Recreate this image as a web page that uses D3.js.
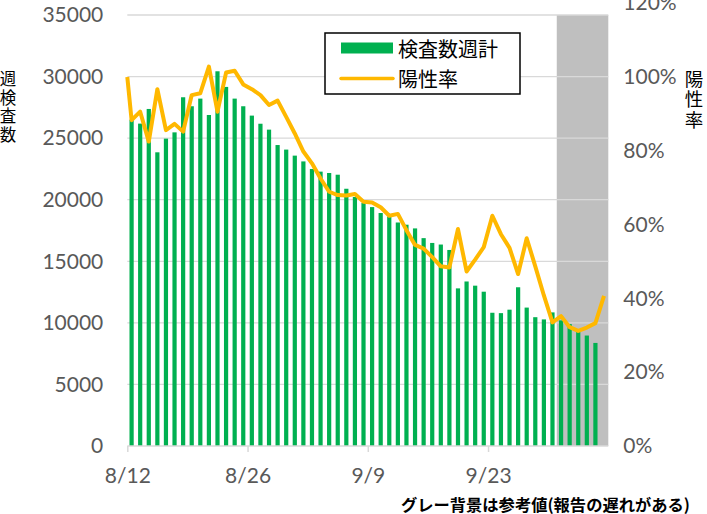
<!DOCTYPE html>
<html>
<head>
<meta charset="utf-8">
<script src="https://cdn.jsdelivr.net/npm/d3@7"></script>
<style>
  body { margin: 0; background: #fff; }
  svg { display: block; }
  .tick-label { font-family: Lato, "DejaVu Sans", sans-serif; font-size: 21px; fill: #595959; }
  .jp { font-family: "Noto Sans CJK JP", sans-serif; fill: #000; }
  .vertical { writing-mode: vertical-rl; }
</style>
</head>
<body>
<script>
// daily bars 8/12 .. 10/5, line 8/11 .. 10/6
const barStart = new Date(2021, 7, 12);
const barEnd = new Date(2021, 9, 6);
const lineStart = new Date(2021, 7, 11);
const lineEnd = new Date(2021, 9, 7);
const grayStart = new Date(2021, 9, 1);

const weeklyTests = [26500, 26180, 27370, 23850, 24960, 25470, 28320, 27590, 28210, 26880,
  30430, 29160, 28210, 27590, 26830, 26170, 25690, 24440, 24070, 23580,
  23110, 22490, 22280, 22170, 22030, 20890, 20220, 19730, 19400, 18920,
  18640, 18150, 17970, 17670, 16880, 16490, 16360, 15920, 12800, 13360,
  13020, 12530, 10820, 10790, 11070, 12890, 11240, 10460, 10280, 10850,
  10200, 9900, 9420, 8970, 8370];

const positiveRate = [100, 88.3, 90.6, 82.5, 96.7, 85.6, 87.3, 85.2, 95.1, 95.6,
  102.8, 90.6, 101.2, 101.7, 98.0, 96.7, 95.1, 92.4, 93.6, 89.2,
  84.7, 79.8, 76.6, 72.5, 68.9, 68.0, 67.9, 68.3, 66.2, 66.0,
  64.7, 62.4, 62.9, 58.5, 54.5, 53.5, 51.2, 48.7, 48.4, 58.8,
  47.3, 50.5, 53.9, 62.4, 57.4, 53.7, 46.6, 56.3, 48.7, 40.8,
  33.5, 35.2, 32.2, 31.2, 32.1, 33.3, 40.7];

const leftTicks = [0, 5000, 10000, 15000, 20000, 25000, 30000, 35000];
const rightTicks = [0, 0.2, 0.4, 0.6, 0.8, 1.0, 1.2];
const xTickDates = [new Date(2021, 7, 12), new Date(2021, 7, 26), new Date(2021, 8, 9), new Date(2021, 8, 23)];

const legendLabels = ["検査数週計", "陽性率"];
const leftTitle = "週検査数";
const rightTitle = "陽性率";
const note = "グレー背景は参考値(報告の遅れがある)";

const width = 707, height = 514;
const plot = { left: 127.3, right: 608.3, top: 15, bottom: 446 };
const green = "#00b050", orange = "#ffb800";

const barDays = d3.timeDay.range(barStart, barEnd);
const lineDays = d3.timeDay.range(lineStart, lineEnd);
const noon = d => d3.timeHour.offset(d, 12);

const x = d3.scaleTime()
  .domain([barStart, lineEnd])
  .range([plot.left, plot.right]);
// the line's first point sits on the left edge
const xLine = x.copy().clamp(true);
const dayW = x(d3.timeDay.offset(barStart, 1)) - x(barStart);

const yL = d3.scaleLinear().domain([0, 35000]).range([plot.bottom, plot.top]);
const yR = d3.scaleLinear().domain([0, 1.2]).range([plot.bottom, 3.2]);

const svg = d3.select("body").append("svg")
  .attr("width", width)
  .attr("height", height);

// gray "reference only" zone
svg.append("rect")
  .attr("x", x(grayStart))
  .attr("y", plot.top)
  .attr("width", plot.right - x(grayStart))
  .attr("height", plot.bottom - plot.top)
  .attr("fill", "#bfbfbf");

// gridlines
svg.append("g")
  .selectAll("line")
  .data(leftTicks.filter(d => d > 0))
  .join("line")
    .attr("x1", plot.left)
    .attr("x2", plot.right)
    .attr("y1", d => yL(d))
    .attr("y2", d => yL(d))
    .attr("stroke", "#d9d9d9")
    .attr("stroke-width", 1.3);

// bars
svg.append("g")
  .selectAll("rect")
  .data(weeklyTests)
  .join("rect")
    .attr("x", (d, i) => x(noon(barDays[i])) - dayW * 0.245)
    .attr("y", d => yL(d))
    .attr("width", dayW * 0.49)
    .attr("height", d => plot.bottom - yL(d))
    .attr("fill", green);

// bottom axis
const xAxis = d3.axisBottom(x)
  .tickValues(xTickDates)
  .tickSize(6)
  .tickFormat(d3.timeFormat("%-m/%-d"));

const gx = svg.append("g")
  .attr("transform", `translate(0,${plot.bottom})`)
  .call(xAxis);
gx.select(".domain").attr("stroke", "#d9d9d9").attr("stroke-width", 1.5)
  .attr("d", `M${plot.left},0H${plot.right}`);
gx.selectAll(".tick line").attr("stroke", "#d9d9d9").attr("stroke-width", 1.5);
gx.selectAll(".tick text")
  .attr("class", "tick-label")
  .attr("y", 22)
  .attr("dy", "0.71em");
gx.attr("font-size", null).attr("font-family", null);

// left axis labels
const gyL = svg.append("g")
  .attr("transform", `translate(${plot.left},0)`)
  .call(d3.axisLeft(yL).tickValues(leftTicks).tickSize(0).tickPadding(24)
    .tickFormat(d3.format("d")));
gyL.select(".domain").remove();
gyL.attr("font-size", null).attr("font-family", null);
gyL.selectAll(".tick text").attr("class", "tick-label");

// right axis labels
const gyR = svg.append("g")
  .attr("transform", `translate(${plot.right},0)`)
  .call(d3.axisRight(yR).tickValues(rightTicks).tickSize(0).tickPadding(15)
    .tickFormat(d => Math.round(d * 100) + "%"));
gyR.select(".domain").remove();
gyR.attr("font-size", null).attr("font-family", null);
gyR.selectAll(".tick text").attr("class", "tick-label");

// positivity line
const line = d3.line()
  .x((d, i) => xLine(noon(lineDays[i])))
  .y(d => yR(d / 100));

svg.append("path")
  .datum(positiveRate)
  .attr("d", line)
  .attr("fill", "none")
  .attr("stroke", orange)
  .attr("stroke-width", 4)
  .attr("stroke-linejoin", "round");

// legend
const legend = svg.append("g").attr("transform", "translate(325,33)");
legend.append("rect")
  .attr("width", 195)
  .attr("height", 61)
  .attr("fill", "#fff")
  .attr("stroke", "#000")
  .attr("stroke-width", 1.5);
legend.append("rect")
  .attr("x", 16).attr("y", 9.5)
  .attr("width", 52).attr("height", 11)
  .attr("fill", green);
legend.append("line")
  .attr("x1", 16).attr("x2", 68)
  .attr("y1", 45.5).attr("y2", 45.5)
  .attr("stroke", orange)
  .attr("stroke-width", 3.5)
  .attr("stroke-linecap", "round");
legend.selectAll("text")
  .data(legendLabels)
  .join("text")
    .attr("class", "jp")
    .attr("x", 73)
    .attr("y", (d, i) => 15 + i * 30)
    .attr("dominant-baseline", "central")
    .attr("font-size", 20)
    .text(d => d);

// axis titles, written vertically
svg.append("text")
  .attr("class", "jp vertical")
  .attr("x", 8)
  .attr("y", 70.5)
  .attr("font-size", 16.5)
  .attr("letter-spacing", 2)
  .text(leftTitle);

svg.append("text")
  .attr("class", "jp vertical")
  .attr("x", 694)
  .attr("y", 69.5)
  .attr("font-size", 18.5)
  .attr("letter-spacing", 2)
  .text(rightTitle);

// footnote
svg.append("text")
  .attr("class", "jp")
  .attr("x", 690)
  .attr("y", 504)
  .attr("text-anchor", "end")
  .attr("dominant-baseline", "central")
  .attr("font-size", 16.3)
  .attr("font-weight", "bold")
  .text(note);
</script>
</body>
</html>
